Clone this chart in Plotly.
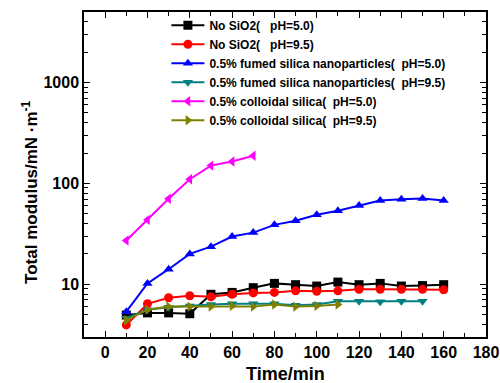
import plotly.graph_objects as go

time_a = [10, 20, 30, 40, 50, 60, 70, 80, 90, 100, 110, 120, 130, 140, 150, 160]
time_b = [10, 20, 30, 40, 50, 60, 70, 80, 90, 100, 110, 120, 130, 140, 150]
time_c = [10, 20, 30, 40, 50, 60, 70]
time_d = [10, 20, 30, 40, 50, 60, 70, 80, 90, 100, 110]

no_sio2_ph50 = [4.95, 5.2, 5.2, 5.1, 7.95, 8.3, 9.25, 10.2, 9.9, 9.6, 10.5, 9.9, 10.2, 9.6, 9.7, 9.9]
no_sio2_ph95 = [3.95, 6.4, 7.35, 7.7, 7.5, 7.95, 8.2, 8.3, 8.6, 8.5, 8.6, 8.9, 8.9, 8.9, 8.9, 8.8]
fumed_ph50 = [5.35, 10.2, 14.1, 20.0, 23.6, 29.7, 32.5, 38.8, 42.6, 48.8, 53.5, 60.3, 67.7, 69.8, 70.8, 67.7]
fumed_ph95 = [4.6, 5.6, 5.9, 6.1, 6.3, 6.4, 6.4, 6.4, 6.2, 6.3, 6.8, 6.8, 6.7, 6.8, 6.8]
colloidal_ph50 = [27.1, 43.5, 70.3, 110, 150, 165, 188]
colloidal_ph95 = [4.4, 5.6, 6.0, 6.0, 6.0, 6.1, 6.0, 6.3, 6.0, 6.1, 6.3]

NB = "\u00a0"
series = [
    ("No SiO2(" + NB * 3 + "pH=5.0)", time_a, no_sio2_ph50, "#000000", "square"),
    ("No SiO2(" + NB * 3 + "pH=9.5)", time_a, no_sio2_ph95, "#FF0000", "circle"),
    ("0.5% fumed silica nanoparticles(" + NB * 2 + "pH=5.0)", time_a, fumed_ph50, "#0000FF", "triangle-up"),
    ("0.5% fumed silica nanoparticles(" + NB * 2 + "pH=9.5)", time_b, fumed_ph95, "#008080", "triangle-down"),
    ("0.5% colloidal silica(" + NB * 2 + "pH=5.0)", time_c, colloidal_ph50, "#FF00FF", "triangle-left"),
    ("0.5% colloidal silica(" + NB * 2 + "pH=9.5)", time_d, colloidal_ph95, "#808000", "triangle-right"),
]

x_major = [0, 20, 40, 60, 80, 100, 120, 140, 160, 180]
x_minor = [-10, 10, 30, 50, 70, 90, 110, 130, 150, 170]
y_major = [10, 100, 1000]
y_minor = [3, 4, 5, 6, 7, 8, 9, 20, 30, 40, 50, 60, 70, 80, 90,
           200, 300, 400, 500, 600, 700, 800, 900, 2000, 3000, 4000, 5000]

x_title = "Time/min"
y_title = "Total modulus/mN ·m<sup>-1</sup>"

fig = go.Figure()
for name, xs, ys, color, sym in series:
    fig.add_trace(go.Scatter(
        x=xs, y=ys, name=name, mode="lines+markers",
        line=dict(color=color, width=2),
        marker=dict(color=color, symbol=sym, size=9, line=dict(width=0)),
    ))

font_family = "Liberation Sans, Arial, sans-serif"
fig.update_layout(
    width=500, height=383,
    margin=dict(l=84, r=14, t=12, b=46, autoexpand=False),
    paper_bgcolor="white", plot_bgcolor="white",
    showlegend=True,
    legend=dict(x=0.205, y=0.972, xanchor="left", yanchor="top", yref="container",
                bgcolor="rgba(0,0,0,0)", borderwidth=0,
                font=dict(family=font_family, size=12, color="black", weight="bold"),
                tracegroupgap=0, itemwidth=33),
    font=dict(family=font_family, color="black"),
)
fig.update_xaxes(
    range=[-10, 180], tickvals=x_major, ticktext=[str(v) for v in x_major],
    ticks="inside", ticklen=6, tickwidth=1, tickcolor="black",
    minor=dict(tickvals=x_minor, ticks="inside", ticklen=4, tickcolor="black", showgrid=False),
    showline=True, linecolor="black", linewidth=1.5, mirror="allticks",
    showgrid=False, zeroline=False, automargin=False,
    tickfont=dict(family=font_family, size=16, color="black", weight="bold"),
)
fig.update_yaxes(
    type="log", range=[0.477, 3.699], tickvals=y_major, ticktext=["10", "100", "1000"],
    ticks="inside", ticklen=6, tickwidth=1, tickcolor="black",
    minor=dict(tickvals=y_minor, ticks="inside", ticklen=4, tickcolor="black", showgrid=False),
    showline=True, linecolor="black", linewidth=1.5, mirror="allticks",
    showgrid=False, zeroline=False, automargin=False,
    tickfont=dict(family=font_family, size=16, color="black", weight="bold"),
)

fig.add_annotation(
    text=x_title, xref="paper", yref="paper", x=0.5, y=-0.113,
    xanchor="center", yanchor="middle", showarrow=False,
    font=dict(family=font_family, size=18, color="black", weight="bold"),
)
fig.add_annotation(
    text=y_title, xref="paper", yref="paper", x=-0.133, y=0.445,
    xanchor="center", yanchor="middle", showarrow=False, textangle=-90,
    font=dict(family=font_family, size=17, color="black", weight="bold"),
)

fig.write_html("out.html")
